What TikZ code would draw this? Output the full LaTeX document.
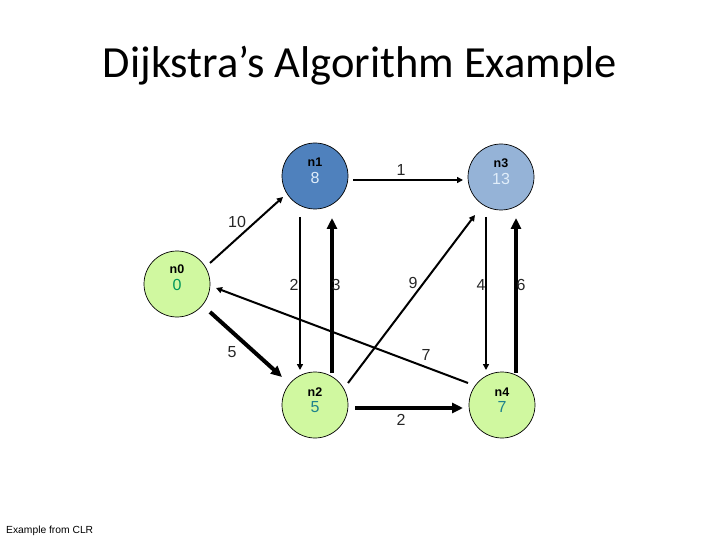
\documentclass[tikz,border=0pt]{standalone}
\usepackage{fontspec}
\setmainfont{Liberation Sans}
\newfontfamily\titlefont{Carlito}
\usetikzlibrary{arrows.meta,calc}
\definecolor{nblue}{RGB}{79,129,189}
\definecolor{nlblue}{RGB}{149,179,215}
\definecolor{ngreen}{RGB}{208,248,160}
\definecolor{vgreen}{RGB}{0,150,90}
\definecolor{vteal}{RGB}{30,130,140}
\definecolor{vwhite}{RGB}{225,238,250}
\tikzset{
  vertex/.style={circle,draw=black,line width=0.7bp,minimum size=66bp,inner sep=0pt},
  vname/.style={font=\fontsize{12.5bp}{13bp}\selectfont\bfseries,inner sep=0pt},
  vval/.style={font=\fontsize{16bp}{17bp}\selectfont,inner sep=0pt},
  elabel/.style={font=\fontsize{16bp}{18bp}\selectfont,inner sep=0pt,text=black!85},
  thinarrow/.style={line width=2bp,-{Triangle[length=6bp,width=6bp]}},
  thickarrow/.style={line width=4bp,-{Triangle[length=11bp,width=10bp]}},
}
\begin{document}
\begin{tikzpicture}[x=1bp,y=-1bp]
\useasboundingbox (0,0) rectangle (720,540);
% title
\node[anchor=base,inner sep=0pt,font=\titlefont\fontsize{44.5bp}{48bp}\selectfont] (title) at (360,78) {Dijkstra’s Algorithm Example};
% vertices
\node[vertex,fill=ngreen] (n0) at (177,284) {};
\node[vertex,fill=nblue] (n1) at (315,176) {};
\node[vertex,fill=nlblue] (n3) at (501,177) {};
\node[vertex,fill=ngreen] (n2) at (315,405) {};
\node[vertex,fill=ngreen] (n4) at (502,405) {};
% vertex texts
\node[vname] (n0t) at ([shift={(0,-15)}]n0.center) {n0};
\node[vval,text=vgreen] (n0v) at ([shift={(0,1)}]n0.center) {0};
\node[vname] (n1t) at ([shift={(0,-14)}]n1.center) {n1};
\node[vval,text=vwhite] (n1v) at ([shift={(0,2)}]n1.center) {8};
\node[vname] (n3t) at ([shift={(0,-14)}]n3.center) {n3};
\node[vval,text=vwhite] (n3v) at ([shift={(0,2)}]n3.center) {13};
\node[vname] (n2t) at ([shift={(0,-13)}]n2.center) {n2};
\node[vval,text=vteal] (n2v) at ([shift={(0,2)}]n2.center) {5};
\node[vname] (n4t) at ([shift={(0,-13)}]n4.center) {n4};
\node[vval,text=vteal] (n4v) at ([shift={(0,2)}]n4.center) {7};
% edges
\draw[thinarrow] ([shift={(33,-21)}]n0.center) -- ([shift={(-32,21)}]n1.center);
\draw[thinarrow] ([shift={(38,4)}]n1.center) -- ([shift={(-38,3)}]n3.center);
\draw[thinarrow] ([shift={(-15,41)}]n1.center) -- ([shift={(-15,-35)}]n2.center);
\draw[thickarrow] ([shift={(17,-32)}]n2.center) -- ([shift={(17,42)}]n1.center);
\draw[thinarrow] ([shift={(-15,40)}]n3.center) -- ([shift={(-16,-35)}]n4.center);
\draw[thickarrow] ([shift={(14,-32)}]n4.center) -- ([shift={(15,41)}]n3.center);
\draw[thinarrow] ([shift={(33,-22)}]n2.center) -- ([shift={(-26,38)}]n3.center);
\draw[thinarrow] ([shift={(-34,-22)}]n4.center) -- ([shift={(39,4)}]n0.center);
\draw[thickarrow] ([shift={(33,28)}]n0.center) -- ([shift={(-33,-28)}]n2.center);
\draw[thickarrow] ([shift={(40,3)}]n2.center) -- ([shift={(-39,3)}]n4.center);
% edge labels
\node[elabel] (l10) at (237,222) {10};
\node[elabel] (l1) at (401,170) {1};
\node[elabel] (l2a) at (294,285) {2};
\node[elabel] (l3) at (336,285) {3};
\node[elabel] (l9) at (413,283) {9};
\node[elabel] (l4) at (481,285) {4};
\node[elabel] (l6) at (521,285) {6};
\node[elabel] (l5) at (232,352) {5};
\node[elabel] (l7) at (426,355) {7};
\node[elabel] (l2b) at (401,420) {2};
% footnote
\node[anchor=base west,inner sep=0pt,font=\fontsize{10.3bp}{12bp}\selectfont] (src) at (6,533) {Example from CLR};
\end{tikzpicture}
\end{document}
